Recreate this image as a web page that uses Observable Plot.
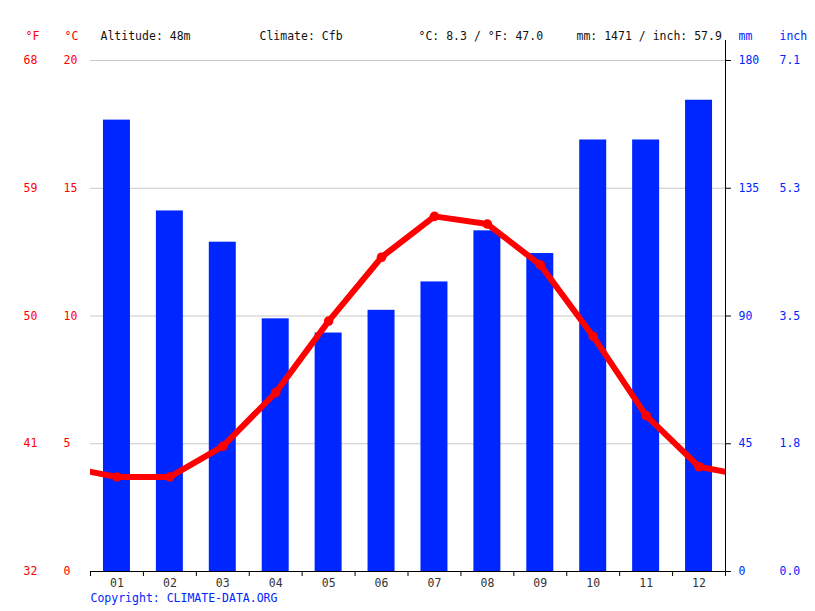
<!DOCTYPE html>
<html>
<head>
<meta charset="utf-8">
<script src="https://cdn.jsdelivr.net/npm/d3@7"></script>
<script src="https://cdn.jsdelivr.net/npm/@observablehq/plot@0.6"></script>
<style>
  html, body { margin: 0; padding: 0; background: #fff; }
  #chart svg { display: block; }
</style>
</head>
<body>
<div id="chart"></div>
<script>
// ---- data ----
const months = ["01", "02", "03", "04", "05", "06", "07", "08", "09", "10", "11", "12"];
const precipMm = [159, 127, 116, 89, 84, 92, 102, 120, 112, 152, 152, 166];
const tempC = [3.7, 3.7, 4.9, 7.0, 9.8, 12.3, 13.9, 13.6, 12.0, 9.2, 6.1, 4.1];
const cTicks = [0, 5, 10, 15, 20];
const fTickLabels = ["32", "41", "50", "59", "68"];
const mmTickLabels = ["0", "45", "90", "135", "180"];
const inchTickLabels = ["0.0", "1.8", "3.5", "5.3", "7.1"];
const headerLeft = ["°F", "°C"];
const headerInfo = ["Altitude: 48m", "Climate: Cfb", "°C: 8.3 / °F: 47.0", "mm: 1471 / inch: 57.9"];
const headerRight = ["mm", "inch"];
const copyright = "Copyright: CLIMATE-DATA.ORG";

// ---- derived tables ----
const mmPerDegree = 9; // 180 mm at the 20 °C line
const rows = months.map((m, i) => ({ m: i + 1, label: m, mm: precipMm[i], t: tempC[i] }));
// wrap-around neighbours so the line runs to the frame edges (clipped)
const lineRows = [{ m: 0, t: tempC[11] }, ...rows, { m: 13, t: tempC[0] }];
const boundaries = months.map((_, i) => i + 0.5).concat([months.length + 0.5]);

const RED = "#ff0000";
const BLUE = "#0026ff";
const halfBar = 0.255;

const tickText = (labels) => (d) => labels[cTicks.indexOf(d)];

const chart = Plot.plot({
  width: 815,
  height: 611,
  marginTop: 60,
  marginBottom: 40,
  marginLeft: 90,
  marginRight: 90,
  style: { fontFamily: "DejaVu Sans Mono", fontSize: "11.5px", background: "#fff" },
  x: { type: "linear", domain: [0.5, 12.5], axis: null },
  y: { domain: [0, 20], axis: null },
  marks: [
    Plot.gridY(cTicks.slice(1), { stroke: "#c8c8c8", strokeOpacity: 1 }),
    Plot.rectY(rows, {
      x1: d => d.m - halfBar,
      x2: d => d.m + halfBar,
      y1: 0,
      y2: d => d.mm / mmPerDegree,
      fill: BLUE
    }),
    Plot.ruleY([0], { stroke: "#000" }),
    Plot.ruleX([12.5], { y1: 20, y2: 0, insetTop: -20, stroke: "#000" }),
    Plot.line(lineRows, {
      x: "m", y: "t", stroke: RED, strokeWidth: 6,
      strokeLinejoin: "round", strokeLinecap: "butt", clip: true
    }),
    Plot.dot(rows, { x: "m", y: "t", r: 4.8, fill: RED }),
    // x axis: ticks at month boundaries, labels at month centres
    Plot.axisX({ ticks: boundaries, tickSize: 5, tickFormat: () => "", stroke: "#000", label: null }),
    Plot.axisX({
      ticks: rows.map(d => d.m), tickSize: 0, tickPadding: 7,
      tickFormat: d => months[d - 1], fill: "#333", label: null
    }),
    // left axes
    Plot.axisY({
      anchor: "left", ticks: cTicks, tickSize: 0, tickPadding: 0,
      textAnchor: "start", dx: -27, fill: RED, tickFormat: d => String(d), label: null
    }),
    Plot.axisY({
      anchor: "left", ticks: cTicks, tickSize: 0, tickPadding: 0,
      textAnchor: "start", dx: -67, fill: RED, tickFormat: tickText(fTickLabels), label: null
    }),
    // right axes
    Plot.axisY({
      anchor: "right", ticks: cTicks, tickSize: 5, tickPadding: 8,
      stroke: "#000", fill: BLUE, tickFormat: tickText(mmTickLabels), label: null
    }),
    Plot.axisY({
      anchor: "right", ticks: cTicks, tickSize: 0, tickPadding: 0,
      dx: 54, fill: BLUE, tickFormat: tickText(inchTickLabels), label: null
    }),
    // header row
    Plot.text([headerLeft[0]], { text: d => d, frameAnchor: "top-left", dx: -65, dy: -24, textAnchor: "start", lineAnchor: "middle", fill: RED }),
    Plot.text([headerLeft[1]], { text: d => d, frameAnchor: "top-left", dx: -26, dy: -24, textAnchor: "start", lineAnchor: "middle", fill: RED }),
    Plot.text([headerInfo[0]], { text: d => d, frameAnchor: "top-left", dx: 10, dy: -24, textAnchor: "start", lineAnchor: "middle", fill: "#111" }),
    Plot.text([headerInfo[1]], { text: d => d, frameAnchor: "top-left", dx: 169, dy: -24, textAnchor: "start", lineAnchor: "middle", fill: "#111" }),
    Plot.text([headerInfo[2]], { text: d => d, frameAnchor: "top-left", dx: 328, dy: -24, textAnchor: "start", lineAnchor: "middle", fill: "#111" }),
    Plot.text([headerInfo[3]], { text: d => d, frameAnchor: "top-left", dx: 486, dy: -24, textAnchor: "start", lineAnchor: "middle", fill: "#111" }),
    Plot.text([headerRight[0]], { text: d => d, frameAnchor: "top-right", dx: 13, dy: -24, textAnchor: "start", lineAnchor: "middle", fill: BLUE }),
    Plot.text([headerRight[1]], { text: d => d, frameAnchor: "top-right", dx: 54, dy: -24, textAnchor: "start", lineAnchor: "middle", fill: BLUE }),
    // footer
    Plot.text([copyright], { text: d => d, frameAnchor: "bottom-left", dx: 0, dy: 27, textAnchor: "start", lineAnchor: "middle", fill: BLUE })
  ]
});

document.getElementById("chart").appendChild(chart);
</script>
</body>
</html>
